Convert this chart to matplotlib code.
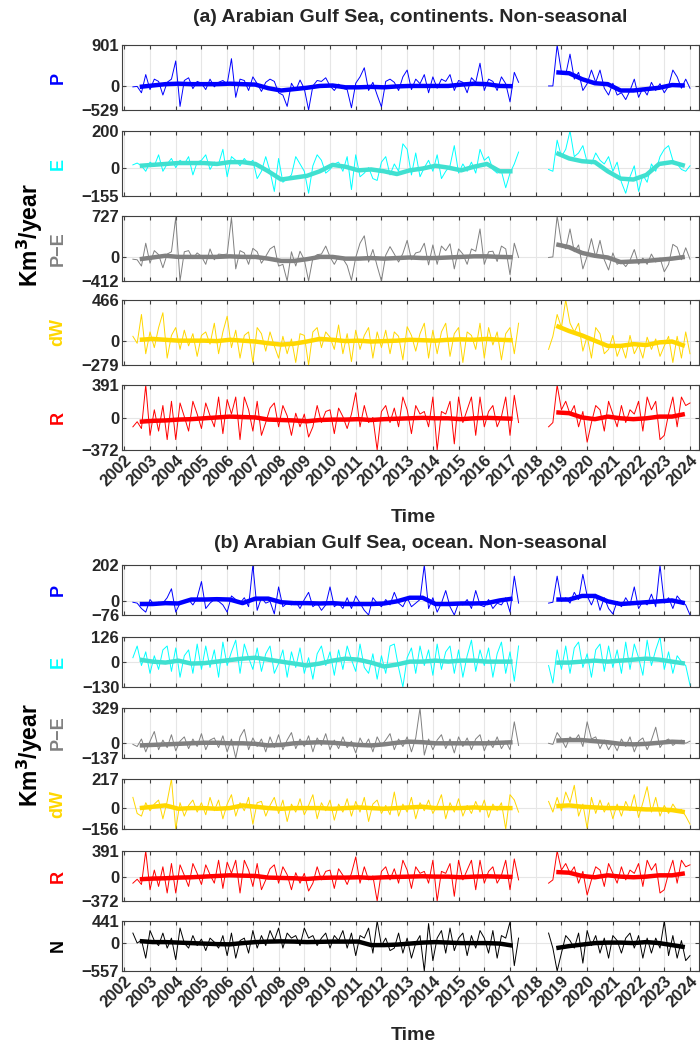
import matplotlib
matplotlib.use("Agg")
import matplotlib.pyplot as plt
import numpy as np

plt.rcParams['font.family'] = ['Liberation Sans', 'DejaVu Sans']
plt.rcParams['font.weight'] = 'bold'

# ---- data: thin lines are bimonthly values, thick lines half-yearly (Km^3/year)
# segment 1 starts 2002.33, segment 2 starts 2018.5 (thin)
# smoothed segment 1 starts 2002.6, segment 2 starts 2018.8

# (a) continents
P_a1 = [-20, -10, -150, 250, -80, 150, 100, -200, 80, 150,
        550, -450, 120, 180, -60, 100, 60, -80, 150, -20,
        80, 120, 40, 600, -250, 150, 120, -100, 200, 50,
        -120, 80, 150, 100, -150, -200, -450, 60, -100, 130,
        -60, -529, 0, 120, 100, 180, 0, -100, 40, -50,
        -80, -480, 60, 200, 400, -100, 80, -200, -460, 100,
        150, 80, -100, 200, 350, -80, 150, 50, 250, -150,
        200, -50, 150, 100, 250, -100, 120, 80, -150, 180,
        80, 500, -100, 150, 100, -100, 200, 50, -350, 300, 80]
P_a2 = [0, 0, 900, 300, 250, 700, 150, 300, -100, 50,
        350, 80, 350, -50, -200, 60, -200, -150, -300, -100,
        150, -250, -50, -200, 80, -100, 50, -150, 0, 350,
        200, -50, 150, -50]
P_a_s1 = [-20, 10, 40, 50, 40, 40, 40, 50, 40, 30, -50, -100, -70, -40, 0,
          10, -30, -30, -20, -30, -10, 0, 0, 0, 0, 30, 50, 40, 0, -5]
P_a_s2 = [300, 280, 150, 60, 40, -100, -100, -70, -40, 20, 10]

E_a1 = [15, 25, 10, -20, 30, 10, 70, -20, 20, 50,
        0, 40, 20, 60, -40, 30, 40, 70, -10, 30,
        20, 100, -50, 60, 40, 10, 50, 20, 40, -60,
        -20, 60, -20, -130, 50, -80, -60, -40, 60, 20,
        -20, -140, 10, 70, 40, -30, -10, 20, 30, -20,
        60, -120, 70, -50, -30, 0, -60, -70, 30, 60,
        -40, 20, -20, 130, 100, -40, 80, -50, 0, 40,
        -20, 70, -60, -20, 10, 120, -30, 20, -20, 30,
        -30, 100, 40, 60, -10, -30, -20, -110, -30, 20, 85]
E_a2 = [-10, -20, 150, 60, 100, 200, 60, 80, 120, 30,
        20, 80, 40, 20, 60, -20, 30, -80, -140, -50,
        10, -130, -40, -80, 20, -20, 60, 100, 120, 40,
        20, -10, -20, 10]
E_a_s1 = [10, 15, 20, 25, 25, 25, 20, 30, 30, 20, -20, -65, -55, -45, -20,
          15, 5, -15, -10, -20, -35, -15, -5, 10, 0, -15, 5, 20, -20, -20]
E_a_s2 = [80, 50, 35, 30, -20, -60, -65, -40, 20, 30, 10]

PE_a1 = [-30, -40, -150, 250, -100, 120, 50, -180, 60, 100,
         700, -412, 100, 120, -20, 80, 20, -120, 150, -40,
         60, 50, 60, 700, -200, 120, 80, -120, 160, 100,
         -100, 20, 150, 200, -150, -120, -412, 100, -150, 110,
         -40, -412, -10, 50, 60, 200, 10, -120, 20, -20,
         -140, -400, 0, 250, 380, -80, 140, -150, -412, 40,
         190, 60, -80, 70, 300, -40, 80, 100, 250, -130,
         220, -120, 200, 120, 240, -200, 150, 60, -120, 150,
         110, 500, -120, 100, 110, -70, 200, 150, -300, 250, 0]
PE_a2 = [0, 10, 727, 250, 150, 500, 100, 220, -200, 20,
         330, 0, 300, -40, -220, 80, -120, -70, -160, -50,
         140, -120, -10, -120, 60, -80, -10, -250, -120, 230,
         180, -40, 170, -30]
PE_a_s1 = [-30, 0, 30, 10, 10, 10, 10, 20, 10, 10, -20, -60, -60, -30, 10,
           10, -20, -20, -10, -20, -10, 0, -10, -10, 0, 10, 20, 20, 10, 5]
PE_a_s2 = [230, 180, 80, 30, 0, -80, -70, -60, -40, -20, 10]

dW_a1 = [50, -30, 300, -150, 100, -80, 150, 320, -200, 60,
         150, -100, 120, -60, 80, -180, 60, 100, -40, 200,
         -150, 100, 280, -80, 120, -200, 60, 100, -250, 150,
         80, -120, 100, -60, -200, 50, -150, 20, -250, 80,
         60, -279, 100, 150, -80, 100, 40, -100, 180, -150,
         80, -240, 120, -100, 60, 150, -200, 100, -80, 120,
         -150, 100, 50, -220, 160, 60, -120, 80, 200, -200,
         120, -150, 100, 200, -180, 80, 150, -250, 100, 60,
         -100, 200, -200, 150, -50, 100, -220, 80, 150, -150, 200]
dW_a2 = [-100, 50, 300, 150, 466, 200, 100, 200, -120, 50,
         -200, 150, 80, -150, -100, 60, -180, -50, -200, 60,
         -150, -50, -200, 40, -100, 20, -180, -60, 50, -250,
         50, -200, 100, -150]
dW_a_s1 = [10, 20, 10, 0, 0, 0, -5, 10, 0, -10, -30, -45, -35, -10, 20,
           10, -5, 0, -10, -5, 0, 10, 5, 0, 10, 15, 10, 20, 10, 5]
dW_a_s2 = [170, 110, 60, 0, -60, -60, -40, -50, -20, -10, -60]

R1 = [-100, -40, -120, 391, -200, 100, -150, 150, -250, 200,
      -250, 180, 20, -150, 200, 50, -120, 180, 30, -100,
      250, -180, 220, 50, 250, -250, 250, 100, -150, 200,
      -200, -50, 120, 180, -100, 150, 30, -200, 60, -100,
      50, -220, -100, 150, -50, 80, 100, -180, 120, 20,
      -120, 50, 300, -100, 150, -50, 10, -372, 80, 150,
      -50, 120, -100, 250, 100, -180, 150, 50, 80, -100,
      250, -372, 80, 50, 200, -300, 250, -50, 100, 250,
      -200, 250, -100, 80, 150, -100, 20, 250, -200, 270, -50]
R2 = [-100, -50, 391, 100, 200, 50, 150, -100, 80, -280,
      -50, 150, 100, -150, 200, 50, -100, 150, -50, 100,
      50, 200, -150, 250, 100, 200, -250, -200, 50, 250,
      -100, 250, 150, 180]
R_s1 = [-40, -30, -25, -15, -10, 0, 10, 20, 15, 10, -15, -20, -25, -35, -20,
        -15, -15, -10, -20, -10, -5, 0, 5, 0, 0, -10, 0, 5, 0, -5]
R_s2 = [70, 60, 10, -10, 20, 0, -10, 0, 20, 20, 50]

# (b) ocean
P_b1 = [-5, -10, -40, -60, 10, -20, -5, -10, 20, 70,
        -60, -10, 0, 10, -20, 20, 110, -40, -10, 10,
        0, -20, -60, 30, 10, -10, 20, -30, 202, -50,
        20, -10, 0, -70, 80, -30, -10, -20, 0, -40,
        10, 50, -30, -10, -50, -20, 80, -30, -10, -40,
        20, -40, 30, -10, -50, -76, 20, -10, -30, 10,
        -20, 50, -10, -30, 20, -30, -10, 10, 202, -40,
        20, -60, -10, 60, -30, -76, -10, -20, 10, -40,
        60, -20, -30, 10, -40, -10, -20, 20, -60, 140, -10]
P_b2 = [-10, -5, 140, 0, 20, -10, 50, 10, 150, 30,
        -20, 40, -50, 20, -40, -70, 0, -30, 20, -20,
        80, -40, 0, -20, 40, -30, 200, -10, 20, -40,
        30, 0, -20, -76]
P_b_s1 = [-15, -15, -10, -12, 10, 10, 12, 10, -10, 15, 15, -5, -10, -10, -12,
          -10, -15, -15, -15, -12, 0, 20, 20, -15, -15, -12, -12, -10, 5, 15]
P_b_s2 = [10, 10, 30, 30, 0, -15, -10, -5, 0, 5, -10]

E_b1 = [20, 80, -20, 50, -60, 30, -40, 60, 80, -50,
        70, -80, 30, 60, -60, 90, -40, 80, -30, 60,
        -80, 100, -20, 50, 110, -60, 90, 20, -40, 70,
        -50, 40, 80, -60, -10, 60, -80, 50, -30, 70,
        -60, 20, -90, 40, 80, -20, 50, -70, 60, -40,
        80, 10, -50, 90, -30, -60, 40, -90, 30, -60,
        80, 90, -30, -130, 20, 70, -60, 80, -20, 60,
        -70, 90, -40, 50, 80, -60, 60, -80, 30, 110,
        -50, 60, -20, 70, -80, 40, 100, -60, 50, -100, 80]
E_b2 = [-20, -110, 60, -40, 80, -60, 70, 100, -30, 40,
        -80, 60, 90, -50, 80, -30, 60, -60, 100, -40,
        90, 20, -70, 110, -20, 60, 126, -40, 50, -60,
        30, 0, -20, -120]
E_b_s1 = [10, 0, -5, 5, -10, -8, 0, 8, 15, 20, 10, 0, -10, -20, -10,
          5, 15, 10, -5, -25, -15, 0, 0, 5, 0, 5, 5, 0, 0, 0]
E_b_s2 = [-5, -5, 0, 5, 0, 5, 10, 15, 10, 0, -10]

PE_b1 = [-10, -30, 40, -80, 20, 110, -60, 30, -40, 80,
         -70, 20, 60, -50, 40, -30, 90, -60, 30, 50,
         -40, 70, -80, 40, -137, 60, 130, -60, 50, -30,
         40, -80, 60, -40, 80, -60, 30, 100, -50, 40,
         -30, 70, -80, 50, -20, 90, -60, 30, -50, 60,
         -40, 20, -90, 50, -30, 40, -80, 60, -20, 30,
         90, -60, 40, -30, 60, -80, 50, 329, -110, 40,
         -60, 30, 80, -50, 40, -90, 60, -30, 50, -60,
         40, 80, -70, 30, -40, 60, -50, 20, -60, 200, -20]
PE_b2 = [0, -10, 100, 40, -40, 60, 20, 80, -30, 200,
         40, 60, -50, 30, -60, 10, -70, 40, -30, 60,
         -80, 20, 50, -60, 30, 150, -40, 20, 40, -20,
         10, 30, 0, 20]
PE_b_s1 = [-20, -15, -10, -5, 0, 5, 5, 0, 0, -5, -20, -15, 0, 5, 10,
           5, -5, -15, -20, -10, 5, 15, 10, 0, 0, 0, 0, 0, 5, 10]
PE_b_s2 = [25, 30, 30, 20, 10, -5, -10, -5, 5, 15, 10]

dW_b1 = [80, -40, -60, 40, -20, 30, 60, -80, 50, 217,
         -156, 40, -60, 20, 60, -30, 40, -50, 80, -20,
         60, -80, 30, 100, -60, 40, -20, 80, -120, 40,
         50, -60, 20, 80, -40, 60, -100, 30, -30, 70,
         -50, 20, 100, -80, 40, -20, 60, -90, 30, -30,
         70, -60, 50, -30, 80, -100, 30, 60, -40, 20,
         -50, 120, -60, 30, -30, 80, -80, 40, -20, 60,
         -40, 20, 100, -80, 40, -30, 70, -60, 20, -40,
         50, -30, 60, -70, 30, -20, 40, -156, 100, 60, -30]
dW_b2 = [50, -30, 80, -20, 120, 40, 170, -60, 30, -150,
         80, -40, 60, -30, 40, -80, 30, -60, 50, -20,
         100, -70, 40, 160, -30, 80, -60, 20, -40, 30,
         -20, -10, -60, -120]
dW_b_s1 = [0, 10, 20, -5, 0, 0, -5, 0, 20, 10, 0, -5, 0, 0, 0,
           -5, 0, 5, 0, -5, 0, 5, 10, 0, 0, 0, 5, 0, 0, 0]
dW_b_s2 = [15, 20, 10, 5, 0, 0, -5, -10, -10, -15, -30]

N1 = [200, 0, 60, -300, 250, 50, -50, 200, -100, 100,
      -330, 300, 0, -100, 150, -50, 80, -150, 100, 20,
      -100, 150, -250, 200, -300, 50, 100, -200, 250, -100,
      150, -50, 250, 50, 300, -100, 200, 100, 150, -50,
      300, 100, 150, -50, 100, 200, -100, 150, 50, 250,
      -100, 200, -250, 150, 100, 300, -200, 441, -50, 100,
      -150, -100, 200, -200, 100, -300, 0, 150, -557, 390,
      -350, 100, 250, -200, 300, -150, 100, 200, -250, 150,
      -100, 250, 100, -200, 250, -300, 150, 100, 420, -450, 100]
N2 = [200, -100, -557, -200, 150, 50, -100, 200, -400, 250,
      -50, 150, -200, 100, -300, 150, 50, -200, 100, 200,
      -100, 150, -300, 100, -200, 100, -100, 441, -250, 150,
      -300, 50, -350, -250]
N_s1 = [40, 20, 20, 10, 0, -10, -20, -25, 0, 20, 30, 35, 30, 20, 25,
        30, 30, 30, -40, -40, -30, -10, 10, 20, 10, 0, 0, 0, -10, -50]
N_s2 = [-100, -60, -30, 0, 10, 10, 0, 20, 0, -40, -80]

# axis limits (min, max) as labelled
lim_a = {'P': (-529, 901), 'E': (-155, 200), 'P\u2212E': (-412, 727),
         'dW': (-279, 466), 'R': (-372, 391)}
lim_b = {'P': (-76, 202), 'E': (-130, 126), 'P\u2212E': (-137, 329),
         'dW': (-156, 217), 'R': (-372, 391), 'N': (-557, 441)}

colors = {'P': ('#0000FF', '#0000FF'), 'E': ('#00FFFF', '#40E0D0'),
          'P\u2212E': ('#808080', '#808080'), 'dW': ('#FFD700', '#FFD700'),
          'R': ('#FF0000', '#FF0000'), 'N': ('#000000', '#000000')}

panels_a = [('P', P_a1, P_a2, P_a_s1, P_a_s2), ('E', E_a1, E_a2, E_a_s1, E_a_s2),
            ('P\u2212E', PE_a1, PE_a2, PE_a_s1, PE_a_s2),
            ('dW', dW_a1, dW_a2, dW_a_s1, dW_a_s2), ('R', R1, R2, R_s1, R_s2)]
panels_b = [('P', P_b1, P_b2, P_b_s1, P_b_s2), ('E', E_b1, E_b2, E_b_s1, E_b_s2),
            ('P\u2212E', PE_b1, PE_b2, PE_b_s1, PE_b_s2),
            ('dW', dW_b1, dW_b2, dW_b_s1, dW_b_s2), ('R', R1, R2, R_s1, R_s2),
            ('N', N1, N2, N_s1, N_s2)]

years = list(range(2002, 2025))

W, H = 700, 1045
fig = plt.figure(figsize=(W / 100, H / 100), dpi=100)
txt = '#262626'


def join(v1, v2, t1, t2, step):
    x1 = t1 + np.arange(len(v1)) * step
    x2 = t2 + np.arange(len(v2)) * step
    x = np.concatenate([x1, [np.nan], x2])
    y = np.concatenate([v1, [np.nan], v2])
    return x, y


def panel(top, h, name, v1, v2, s1, s2, lims, last):
    ax = fig.add_axes([122 / W, 1 - (top + h) / H, 577 / W, h / H])
    thin, thick = colors[name]
    x, y = join(v1, v2, 2002 + 1 / 3, 2018.5, 1 / 6)
    ax.plot(x, y, color=thin, lw=0.7)
    xs, ys = join(s1, s2, 2002.6, 2018.8, 0.5)
    ax.plot(xs, ys, color=thick, lw=3.2, solid_capstyle='butt')
    lo, hi = lims[name]
    ax.set_ylim(lo, hi)
    ax.set_xlim(2001.91, 2024.35)
    ax.set_yticks([lo, 0, hi])
    ax.set_yticklabels([str(lo).replace('-', '\u2212'), '0', str(hi)],
                       fontsize=12, fontweight='bold', color=txt)
    ax.set_xticks(years)
    ax.grid(True, color='#E6E6E6', lw=0.8)
    ax.set_axisbelow(True)
    ax.tick_params(direction='in', length=3, top=True, right=True, pad=2,
                   colors='#404040', labelcolor=txt)
    for sp in ax.spines.values():
        sp.set_color('#404040')
        sp.set_linewidth(0.8)
    if last:
        ax.set_xticklabels([str(y) for y in years], rotation=45, ha='right',
                           rotation_mode='anchor', fontsize=12,
                           fontweight='bold', color=txt)
    else:
        ax.set_xticklabels([])
    fig.text(58 / W, 1 - (top + h / 2) / H, name, rotation=90, ha='center',
             va='center', color=thin, fontsize=13, fontweight='bold')
    return ax


tops_a = [45, 131, 216, 300, 385]
for i, (nm, a1, a2, b1, b2) in enumerate(panels_a):
    panel(tops_a[i], 65, nm, a1, a2, b1, b2, lim_a, i == len(panels_a) - 1)

tops_b = [565, 637, 708, 779, 851, 921]
for i, (nm, a1, a2, b1, b2) in enumerate(panels_b):
    panel(tops_b[i], 50, nm, a1, a2, b1, b2, lim_b, i == len(panels_b) - 1)

fig.text(410 / W, 1 - 18 / H, '(a) Arabian Gulf Sea, continents. Non-seasonal',
         ha='center', va='center', fontsize=14, fontweight='bold', color=txt)
fig.text(410 / W, 1 - 543 / H, '(b) Arabian Gulf Sea, ocean. Non-seasonal',
         ha='center', va='center', fontsize=14, fontweight='bold', color=txt)
fig.text(413 / W, 1 - 517 / H, 'Time', ha='center', va='center',
         fontsize=14, fontweight='bold', color=txt)
fig.text(413 / W, 1 - 1036 / H, 'Time', ha='center', va='center',
         fontsize=14, fontweight='bold', color=txt)
fig.text(30 / W, 1 - 235 / H, 'Km$^{\\mathbf{3}}$/year', rotation=90,
         ha='center', va='center', fontsize=16.5, fontweight='bold', color='black')
fig.text(30 / W, 1 - 755 / H, 'Km$^{\\mathbf{3}}$/year', rotation=90,
         ha='center', va='center', fontsize=16.5, fontweight='bold', color='black')

fig.savefig('out.png', dpi=100)
